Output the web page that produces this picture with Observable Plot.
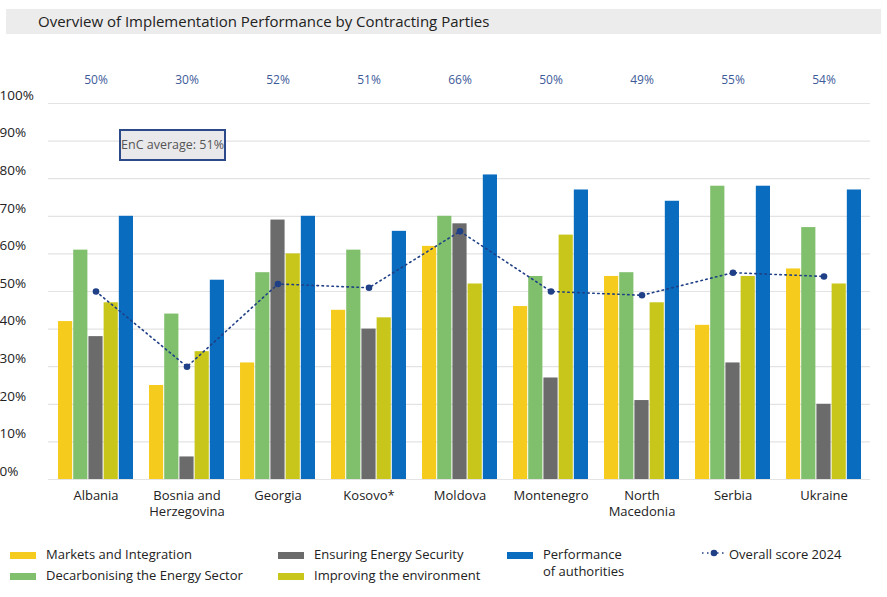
<!DOCTYPE html>
<html><head><meta charset="utf-8">
<script src="https://cdn.jsdelivr.net/npm/d3@7"></script>
<script src="https://cdn.jsdelivr.net/npm/@observablehq/plot@0.6"></script>
<style>
body{margin:0;font-family:"Open Sans",sans-serif;background:#fff;width:887px;height:597px;position:relative;overflow:hidden}
#title{position:absolute;left:6px;top:9px;width:875px;height:25px;background:#ececec;font-size:15px;line-height:25px;padding-left:32px;box-sizing:border-box;color:#222}
#chart{position:absolute;left:0;top:40px}
#avg{position:absolute;left:119px;top:129px;width:107px;height:32px;box-sizing:border-box;border:2px solid #2c4a8a;background:#e9e9ec;font-size:12.5px;color:#555;line-height:28px;text-align:center}
.leg{position:absolute;font-size:13px;color:#222;display:flex;align-items:flex-start}
.sw{width:26px;height:7px;margin-right:10px;margin-top:6px;flex:none}
</style></head><body>
<div id="title">Overview of Implementation Performance by Contracting Parties</div>
<div id="chart"></div>
<div id="avg">EnC average: 51%</div>
<div id="legend"></div>
<script>
const countries = ["Albania","Bosnia and\nHerzegovina","Georgia","Kosovo*","Moldova","Montenegro","North\nMacedonia","Serbia","Ukraine"];
const seriesNames = ["Markets and Integration","Decarbonising the Energy Sector","Ensuring Energy Security","Improving the environment","Performance\nof authorities"];
const seriesColors = ["#f5cc1d","#80bf6c","#6b6b6b","#c9c61b","#0a6cbf"];
const markets = [42,25,31,45,62,46,54,41,56];
const decarb = [61,44,55,61,70,54,55,78,67];
const security = [38,6,69,40,68,27,21,31,20];
const environment = [47,34,60,43,52,65,47,54,52];
const authorities = [70,53,70,66,81,77,74,78,77];
const overall = [50,30,52,51,66,50,49,55,54];
const yTicks = [0,10,20,30,40,50,60,70,80,90,100];

const seriesVals = [markets,decarb,security,environment,authorities];
const W = 887, mL = 48, mR = 17;
const bw = (W - mL - mR) / countries.length;
const barW = 14.5, step = 15.2;
const barMarks = seriesVals.map((vals, i) => {
  const off = (i - 2) * step;
  return Plot.barY(countries.map((c, j) => ({c, v: vals[j]})), {
    x: "c", y: "v", fill: seriesColors[i],
    insetLeft: bw/2 - barW/2 + off, insetRight: bw/2 - barW/2 - off
  });
});
const ov = countries.map((c, j) => ({c, v: overall[j]}));
const plot = Plot.plot({
  width: W, height: 500, marginLeft: mL, marginRight: mR, marginTop: 63, marginBottom: 61,
  style: {fontFamily: "Open Sans, sans-serif", fontSize: "13px", color: "#222"},
  x: {domain: countries, padding: 0, label: null},
  y: {domain: [0, 100], label: null},
  marks: [
    Plot.ruleY(yTicks, {stroke: "#e3e3e3", strokeWidth: 1.2}),
    Plot.axisY({ticks: yTicks, tickSize: 0, tickFormat: d => d + "%", textAnchor: "start", dx: -40, dy: -8, fontSize: 13.5, fill: "#222"}),
    Plot.axisX({tickSize: 0, tickPadding: 8, fontSize: 13, lineHeight: 1.3, fill: "#222"}),
    ...barMarks,
    Plot.line(ov, {x: "c", y: "v", stroke: "#1f3f86", strokeWidth: 1.6, strokeDasharray: "1.5,3.5"}),
    Plot.dot(ov, {x: "c", y: "v", fill: "#1f3f86", r: 3.3}),
    Plot.text(ov, {x: "c", text: d => d.v + "%", frameAnchor: "top", dy: -28, fill: "#3d5a99", fontSize: 12})
  ]
});
document.getElementById("chart").appendChild(plot);

const legPos = [[10,546],[10,567],[278,546],[278,567],[507,546]];
const leg = document.getElementById("legend");
seriesNames.forEach((n, i) => {
  const d = document.createElement("div");
  d.className = "leg";
  d.style.left = legPos[i][0] + "px"; d.style.top = legPos[i][1] + "px";
  d.innerHTML = `<div class="sw" style="background:${seriesColors[i]}"></div><div style="white-space:pre;line-height:17px">${n}</div>`;
  leg.appendChild(d);
});
const o = document.createElement("div");
o.className = "leg"; o.style.left = "700px"; o.style.top = "546px";
o.innerHTML = `<svg width="28" height="14" style="margin-right:1px"><line x1="2" x2="26" y1="7" y2="7" stroke="#1f3f86" stroke-width="1.6" stroke-dasharray="1.5,3.5"/><circle cx="14" cy="7" r="3.3" fill="#1f3f86"/></svg><div style="line-height:17px">Overall score 2024</div>`;
leg.appendChild(o);
</script>
</body></html>
